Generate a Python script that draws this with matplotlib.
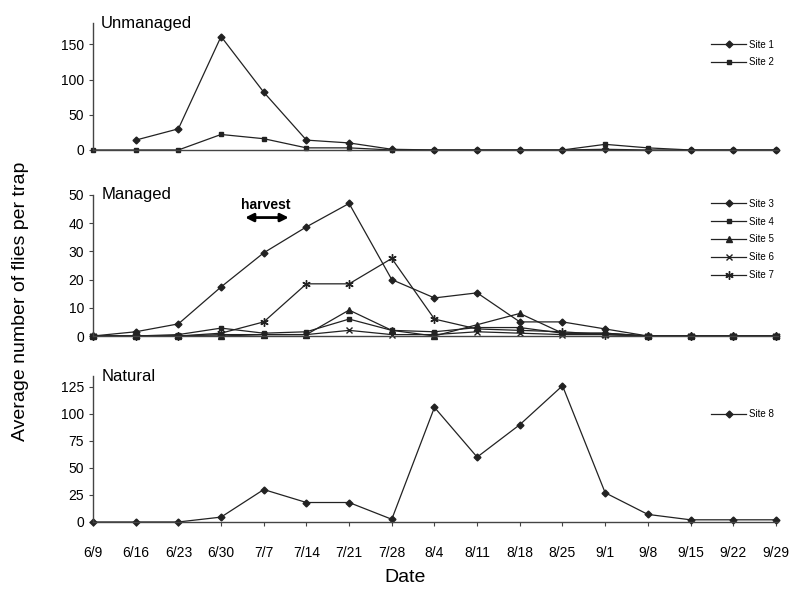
# fly trap counts for three habitat types
import numpy as np
import matplotlib.pyplot as plt

nan = np.nan
dates = ['6/9', '6/16', '6/23', '6/30', '7/7', '7/14', '7/21', '7/28', '8/4',
         '8/11', '8/18', '8/25', '9/1', '9/8', '9/15', '9/22', '9/29']

site1 = [nan, 14, 30, 161, 82, 14, 10, 1, 0, 0, 0, 0, 1, 0, 0, 0, 0]
site2 = [0, 0, 0, 22, 16, 3, 3, 0, 0, 0, 0, 0, 8, 3, 0, 0, 0]

site3 = [0, 1.5, 4.3, 17.4, 29.5, 38.7, 47, 20, 13.5, 15.3, 5, 5, 2.5, 0, 0, 0, 0]
site4 = [0, 0, 0.5, 2.8, 1, 1.5, 6, 2, 1.5, 3, 3, 1, 1, 0, 0, 0, 0]
site5 = [0, 0, 0, 0, 0.5, 0.5, 9.2, 2, 0, 4, 8, 1, 1, 0, 0, 0, 0]
site6 = [0, 0, 0, 0.5, 0.5, 0.5, 2, 0.5, 0.5, 1.5, 1, 0.5, 0.5, 0, 0, 0, 0]
site7 = [0, 0, 0, 1, 5, 18.5, 18.5, 27.5, 6, 2.5, 2, 1.5, 0.5, 0, 0, 0, 0]

site8 = [0, 0, 0, 4.5, 30, 18, 18, 2.5, 106, 60, 90, 126, 27, 7, 2, 2, 2]

plt.rcParams['font.family'] = ['Liberation Sans', 'DejaVu Sans']
x = np.arange(len(dates))
lc = '#222222'

fig = plt.figure(figsize=(7.91, 5.90), dpi=100)
ax1 = fig.add_axes([0.1176, 0.7458, 0.866, 0.215])
ax2 = fig.add_axes([0.1176, 0.4305, 0.866, 0.239])
ax3 = fig.add_axes([0.1176, 0.1153, 0.866, 0.2474])


def style(ax, title, ymax, yticks, show_x):
    ax.set_xlim(0, 16.05)
    ax.set_ylim(0, ymax)
    ax.set_yticks(yticks)
    for s in ['top', 'right']:
        ax.spines[s].set_visible(False)
    for s in ['left', 'bottom']:
        ax.spines[s].set_color('#444444')
        ax.spines[s].set_linewidth(1)
    ax.tick_params(axis='y', direction='out', length=3, labelsize=10, colors='#444444', labelcolor='black')
    ax.set_xticks(x)
    if show_x:
        ax.set_xticklabels(dates)
        ax.tick_params(axis='x', direction='out', length=3, pad=14, labelsize=10, colors='#444444', labelcolor='black')
    else:
        ax.set_xticklabels([])
        ax.tick_params(axis='x', length=0)
    ax.text(0.012, 1.0, title, transform=ax.transAxes, fontsize=12, va='center', ha='left')


def line(ax, y, marker, ms, label):
    ax.plot(x, y, color=lc, lw=0.9, marker=marker, ms=ms, mfc=lc, mec=lc, mew=1,
            label=label, clip_on=False)


line(ax1, site1, 'D', 3.5, 'Site 1')
line(ax1, site2, 's', 3.5, 'Site 2')
style(ax1, 'Unmanaged', 180, [0, 50, 100, 150], False)

line(ax2, site3, 'D', 3.5, 'Site 3')
line(ax2, site4, 's', 3.5, 'Site 4')
line(ax2, site5, '^', 4.5, 'Site 5')
line(ax2, site6, 'x', 4, 'Site 6')
line(ax2, site7, (6, 2, 0), 6, 'Site 7')
style(ax2, 'Managed', 50, [0, 10, 20, 30, 40, 50], False)
ax2.annotate('', xy=(3.5, 42), xytext=(4.65, 42),
             arrowprops=dict(arrowstyle='<|-|>', color='black', lw=2, mutation_scale=12))
ax2.text(4.05, 46.3, 'harvest', fontsize=10, fontweight='bold', ha='center', va='center')

line(ax3, site8, 'D', 3.5, 'Site 8')
style(ax3, 'Natural', 135, [0, 25, 50, 75, 100, 125], True)

for ax, anchor in [(ax1, (1.0, 0.9)), (ax2, (1.0, 1.0)), (ax3, (1.0, 0.8))]:
    ax.legend(loc='upper right', bbox_to_anchor=anchor, frameon=False, fontsize=7,
              handlelength=3.6, handletextpad=0.3, labelspacing=0.8, borderaxespad=0)

fig.text(0.026, 0.49, 'Average number of flies per trap', rotation=90, fontsize=14,
         ha='center', va='center')
fig.text(0.512, 0.022, 'Date', fontsize=14, ha='center', va='center')

fig.savefig('out.png', dpi=100)
